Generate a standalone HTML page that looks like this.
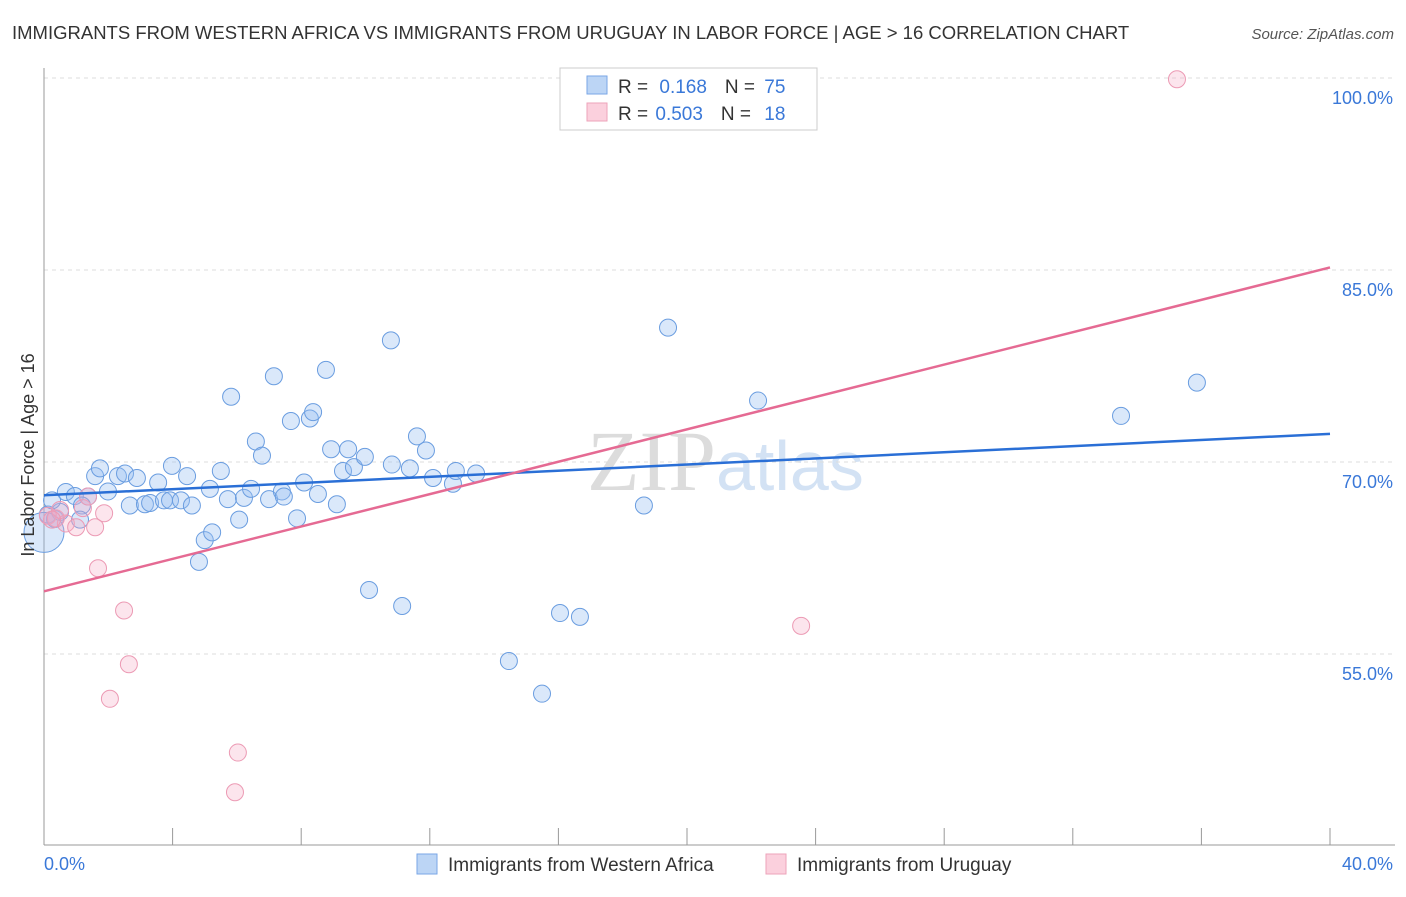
<!DOCTYPE html>
<html><head><meta charset="utf-8"><style>
body{margin:0;background:#fff;font-family:"Liberation Sans",sans-serif}
</style></head><body>
<svg width="1406" height="892" xmlns="http://www.w3.org/2000/svg" font-family="Liberation Sans, sans-serif">
<text x="12" y="39" font-size="18.5" fill="#333">IMMIGRANTS FROM WESTERN AFRICA VS IMMIGRANTS FROM URUGUAY IN LABOR FORCE | AGE &gt; 16 CORRELATION CHART</text>
<text x="1394" y="39" font-size="15" fill="#555" font-style="italic" text-anchor="end">Source: ZipAtlas.com</text>
<text x="716" y="490" font-size="86" fill="#dcdcdc" font-family="Liberation Serif, serif" text-anchor="end">ZIP</text>
<text x="716" y="490" font-size="70" fill="#d3e2f4">atlas</text>
<g id="grid"></g><g id="axes"></g><g id="pts"></g><g id="lines"></g>
<text transform="translate(34,455) rotate(-90)" font-size="18" fill="#333" text-anchor="middle">In Labor Force | Age &gt; 16</text>
<rect x="560" y="68" width="257" height="62" fill="#fff" stroke="#ccc"/>
<rect x="587" y="76" width="20" height="18" fill="#bcd5f5" stroke="#7aa6e6"/>
<rect x="587" y="103" width="20" height="18" fill="#fbd0dd" stroke="#eea3ba"/>
<text x="618" y="93" font-size="19" fill="#333">R = <tspan fill="#3a78d8" dx="6">0.168</tspan><tspan dx="18">N = </tspan><tspan fill="#3a78d8" dx="4">75</tspan></text>
<text x="618" y="120" font-size="19" fill="#333">R = <tspan fill="#3a78d8" dx="2">0.503</tspan><tspan dx="18">N = </tspan><tspan fill="#3a78d8" dx="8">18</tspan></text>
<rect x="417" y="854" width="20" height="20" fill="#bcd5f5" stroke="#7aa6e6"/>
<text x="448" y="871" font-size="19" fill="#333">Immigrants from Western Africa</text>
<rect x="766" y="854" width="20" height="20" fill="#fbd0dd" stroke="#eea3ba"/>
<text x="797" y="871" font-size="19" fill="#333">Immigrants from Uruguay</text>
<text x="44" y="870" font-size="18" fill="#3a78d8">0.0%</text>
<text x="1393" y="870" font-size="18" fill="#3a78d8" text-anchor="end">40.0%</text>
</svg>
<script>
const blueX=[0.68,0.96,1.59,1.74,1.37,1.18,1.99,2.3,2.52,2.89,2.67,3.14,3.3,3.55,3.73,3.98,3.92,4.26,4.45,4.6,5.16,5.5,5.72,6.22,6.44,5.82,6.59,6.78,7.15,7.0,7.4,7.46,7.68,7.87,8.09,8.27,8.37,8.52,8.77,8.93,9.11,9.3,9.46,9.64,9.98,10.79,10.82,11.38,11.6,11.88,12.1,12.72,12.81,13.44,6.07,5.0,5.23,4.82,10.11,11.14,14.46,15.49,16.05,16.67,18.66,19.41,22.21,33.5,35.86,0.12,0.34,0.5,0.0,0.25,1.12];
const blueY=[67.66,67.34,68.9,69.5,67.3,66.6,67.7,68.9,69.1,68.75,66.6,66.7,66.8,68.4,67.0,69.7,67.0,67.0,68.9,66.6,67.9,69.3,67.1,67.2,67.9,75.1,71.6,70.5,76.7,67.1,67.7,67.3,73.2,65.6,68.4,73.4,73.9,67.5,77.2,71.0,66.7,69.3,71.0,69.6,70.4,79.5,69.8,69.5,72.0,70.9,68.75,68.3,69.3,69.1,65.5,63.9,64.5,62.2,60.0,58.75,54.45,51.9,58.2,57.9,66.6,80.5,74.8,73.6,76.2,65.9,65.55,66.1,64.5,67.0,65.5];
const blueSize=blueX.map((_,i)=>i===72?20:8.5);
const pinkX=[35.24,0.12,0.37,0.68,1.0,1.21,1.37,1.59,1.87,1.68,2.49,2.64,2.05,6.03,5.94,23.55,0.5,0.25];
const pinkY=[99.9,65.8,65.6,65.2,64.9,66.4,67.3,64.9,66.0,61.7,58.4,54.2,51.5,47.3,44.2,57.2,66.25,65.5];
const yTicks=[100,85,70,55];
const xTicks=[4,8,12,16,20,24,28,32,36,40];
const blueTrend=[67.4,72.2];
const pinkTrend=[59.9,85.2];
const xs=v=>44+v*32.15, ys=v=>78+(100-v)*12.8;
const NS='http://www.w3.org/2000/svg';
function mk(p,t,a){const e=document.createElementNS(NS,t);for(const k in a)e.setAttribute(k,a[k]);p.appendChild(e);return e;}
const grid=document.getElementById('grid'),axes=document.getElementById('axes'),pts=document.getElementById('pts'),lines=document.getElementById('lines');
yTicks.forEach(v=>{
 const l=mk(grid,'line',{x1:44,x2:1395,y1:ys(v),y2:ys(v),stroke:'#ddd','stroke-dasharray':'4,4'});
 
 
 const t=mk(grid,'text',{x:1393,y:ys(v)+26,'font-size':18,fill:'#3a78d8','text-anchor':'end'});t.textContent=v.toFixed(1)+'%';
 
 
});
const ax=mk(axes,'line',{x1:44,x2:44,y1:68,y2:845,stroke:'#999'});


const bx=mk(axes,'line',{x1:44,x2:1395,y1:845,y2:845,stroke:'#999'});


xTicks.forEach(v=>{const t=mk(axes,'line',{x1:xs(v),x2:xs(v),y1:828,y2:845,stroke:'#999'});
 
 });
blueX.forEach((v,i)=>{const c=mk(pts,'circle',{cx:xs(v),cy:ys(blueY[i]),r:blueSize[i],fill:'rgba(150,190,240,0.35)',stroke:'#6a9de0','stroke-width':1});
 
 });
pinkX.forEach((v,i)=>{const c=mk(pts,'circle',{cx:xs(v),cy:ys(pinkY[i]),r:8.5,fill:'rgba(245,170,195,0.3)',stroke:'#ec9ab4','stroke-width':1});
 
 });
const bl=mk(lines,'line',{x1:xs(0),x2:xs(40),y1:ys(blueTrend[0]),y2:ys(blueTrend[1]),stroke:'#2a6fd6','stroke-width':2.5});


const pl=mk(lines,'line',{x1:xs(0),x2:xs(40),y1:ys(pinkTrend[0]),y2:ys(pinkTrend[1]),stroke:'#e56a93','stroke-width':2.5});


</script>
</body></html>
